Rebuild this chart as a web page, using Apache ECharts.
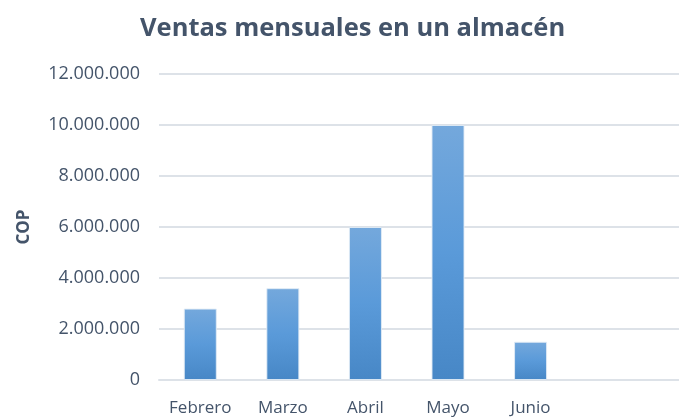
<!DOCTYPE html>
<html>
<head>
<meta charset="utf-8">
<script src="https://cdn.jsdelivr.net/npm/echarts@6/dist/echarts.min.js"></script>
<style>
  html, body { margin: 0; padding: 0; background: #fff; }
  #chart { width: 679px; height: 418px; }
</style>
</head>
<body>
<div id="chart"></div>
<script>
// meses (las dos ultimas categorias quedan vacias, como en el original)
var meses = ['Febrero', 'Marzo', 'Abril', 'Mayo', 'Junio', '', ''];
var ventas = [2800000, 3600000, 6000000, 10000000, 1500000, null, null];
var ejeMin = 0;
var ejeMax = 12000000;
var ejePaso = 2000000;

function miles(v) {
    return String(v).replace(/\B(?=(\d{3})+(?!\d))/g, '.');
}

var textColor = '#44546a';
var fuente = '"Open Sans", sans-serif';

var option = {
    animation: false,
    title: {
        text: 'Ventas mensuales en un almacén',
        left: 135,
        top: 11,
        textStyle: {
            color: textColor,
            fontFamily: fuente,
            fontWeight: 'bold',
            fontSize: 25.5
        }
    },
    grid: {
        left: 159,
        width: 578,
        top: 74,
        bottom: 38,
        outerBoundsMode: 'none'
    },
    xAxis: {
        type: 'category',
        data: meses,
        axisTick: { show: false },
        axisLine: { lineStyle: { color: '#dde2e8', width: 2 } },
        axisLabel: {
            interval: 0,
            color: textColor,
            fontFamily: fuente,
            fontSize: 17,
            margin: 20
        }
    },
    yAxis: {
        type: 'value',
        name: 'COP',
        nameLocation: 'middle',
        nameGap: 126,
        nameTextStyle: {
            color: textColor,
            fontFamily: fuente,
            fontWeight: 'bold',
            fontSize: 17
        },
        min: ejeMin,
        max: ejeMax,
        interval: ejePaso,
        axisLine: { show: false },
        axisTick: { show: false },
        splitLine: { lineStyle: { color: '#dde2e8', width: 2 } },
        axisLabel: {
            color: textColor,
            fontFamily: fuente,
            fontSize: 18,
            margin: 19,
            formatter: miles
        }
    },
    series: [{
        type: 'bar',
        data: ventas,
        barWidth: 33,
        itemStyle: {
            borderColor: 'rgba(225,235,245,0.9)',
            borderWidth: 1,
            color: new echarts.graphic.LinearGradient(0, 0, 0, 1, [
                { offset: 0, color: '#74a8dc' },
                { offset: 0.5, color: '#5a9ad9' },
                { offset: 1, color: '#4787c6' }
            ])
        }
    }]
};

var myChart = echarts.init(document.getElementById('chart'));
myChart.setOption(option);
</script>
</body>
</html>
